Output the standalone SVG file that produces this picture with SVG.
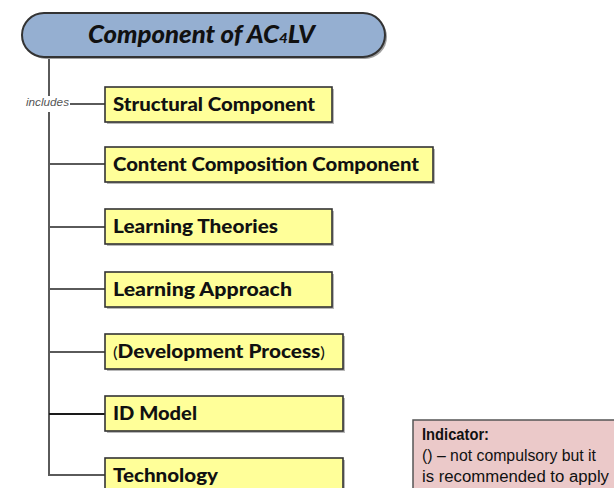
<svg xmlns="http://www.w3.org/2000/svg" width="614" height="488" viewBox="0 0 614 488">
  <style>
    .shadow { fill: #b8b8b8; }
    .box { fill: #ffff99; stroke: #333333; stroke-width: 1.6; }
    .label { font-family: Lato, "DejaVu Sans", sans-serif; font-weight: 900; font-size: 18px; fill: #111111; }
    .paren { font-weight: normal; font-size: 15px; }
    .link { stroke: #5a5a5a; stroke-width: 2; fill: none; }
    .title { font-family: Lato, "DejaVu Sans", sans-serif; font-weight: 900; font-style: italic; font-size: 24px; fill: #111111; }
    .note { font-family: "Liberation Sans", Arial, sans-serif; font-size: 16px; fill: #111111; }
  </style>

  <rect width="614" height="488" fill="#ffffff"/>

  <!-- connectors: trunk and branches -->
  <g id="connectors">
    <path class="link" d="M49,57 V475 H105"/>
    <line class="link" x1="49" y1="104" x2="105" y2="104"/>
    <line class="link" x1="49" y1="164" x2="105" y2="164"/>
    <line class="link" x1="49" y1="227" x2="105" y2="227"/>
    <line class="link" x1="49" y1="289" x2="105" y2="289"/>
    <line class="link" x1="49" y1="352" x2="105" y2="352"/>
    <line class="link" x1="49" y1="414" x2="105" y2="414" style="stroke:#1a1a1a"/>
    <rect x="24" y="96" width="46" height="16" fill="#ffffff"/>
    <text x="26" y="106" font-family="'Liberation Sans', Arial, sans-serif" font-style="italic" font-size="10" fill="#555555" textLength="43" lengthAdjust="spacingAndGlyphs">includes</text>
  </g>

  <!-- root -->
  <g id="root">
    <rect x="24" y="15" width="363" height="44" rx="22" fill="#a0a0a0"/>
    <rect x="22" y="13" width="363" height="44" rx="22" fill="#95afd1" stroke="#333333" stroke-width="2"/>
    <text class="title" x="88" y="43" textLength="227" lengthAdjust="spacingAndGlyphs">Component of AC<tspan font-size="14">4</tspan>LV</text>
  </g>

  <g id="structural">
    <rect class="shadow" x="107" y="89" width="227" height="35"/>
    <rect class="box" x="105" y="87" width="227" height="35"/>
    <text class="label" x="113" y="111" textLength="202" lengthAdjust="spacingAndGlyphs">Structural Component</text>
  </g>

  <g id="content-composition">
    <rect class="shadow" x="107" y="149" width="328" height="35"/>
    <rect class="box" x="105" y="147" width="328" height="35"/>
    <text class="label" x="113" y="171" textLength="306" lengthAdjust="spacingAndGlyphs">Content Composition Component</text>
  </g>

  <g id="learning-theories">
    <rect class="shadow" x="107" y="211" width="227" height="35"/>
    <rect class="box" x="105" y="209" width="227" height="35"/>
    <text class="label" x="113" y="233" textLength="165" lengthAdjust="spacingAndGlyphs">Learning Theories</text>
  </g>

  <g id="learning-approach">
    <rect class="shadow" x="107" y="274" width="227" height="35"/>
    <rect class="box" x="105" y="272" width="227" height="35"/>
    <text class="label" x="113" y="296" textLength="179" lengthAdjust="spacingAndGlyphs">Learning Approach</text>
  </g>

  <g id="development-process">
    <rect class="shadow" x="107" y="336" width="238" height="35"/>
    <rect class="box" x="105" y="334" width="238" height="35"/>
    <text class="label" x="113" y="358" textLength="212" lengthAdjust="spacingAndGlyphs"><tspan class="paren">(</tspan>Development Process<tspan class="paren">)</tspan></text>
  </g>

  <g id="id-model">
    <rect class="shadow" x="107" y="398" width="238" height="35"/>
    <rect class="box" x="105" y="396" width="238" height="35"/>
    <text class="label" x="113" y="420" textLength="84" lengthAdjust="spacingAndGlyphs">ID Model</text>
  </g>

  <g id="technology">
    <rect class="shadow" x="107" y="460" width="238" height="35"/>
    <rect class="box" x="105" y="458" width="238" height="35"/>
    <text class="label" x="113" y="482" textLength="105" lengthAdjust="spacingAndGlyphs">Technology</text>
  </g>

  <!-- legend -->
  <g id="indicator">
    <rect x="413" y="420" width="205" height="80" fill="#ebc9c9" stroke="#555555" stroke-width="1.5"/>
    <text class="note" x="422" y="440" font-weight="bold" textLength="67" lengthAdjust="spacingAndGlyphs">Indicator:</text>
    <text class="note" x="422" y="461" textLength="174" lengthAdjust="spacingAndGlyphs">() – not compulsory but it</text>
    <text class="note" x="422" y="482" textLength="187" lengthAdjust="spacingAndGlyphs">is recommended to apply</text>
  </g>
</svg>
